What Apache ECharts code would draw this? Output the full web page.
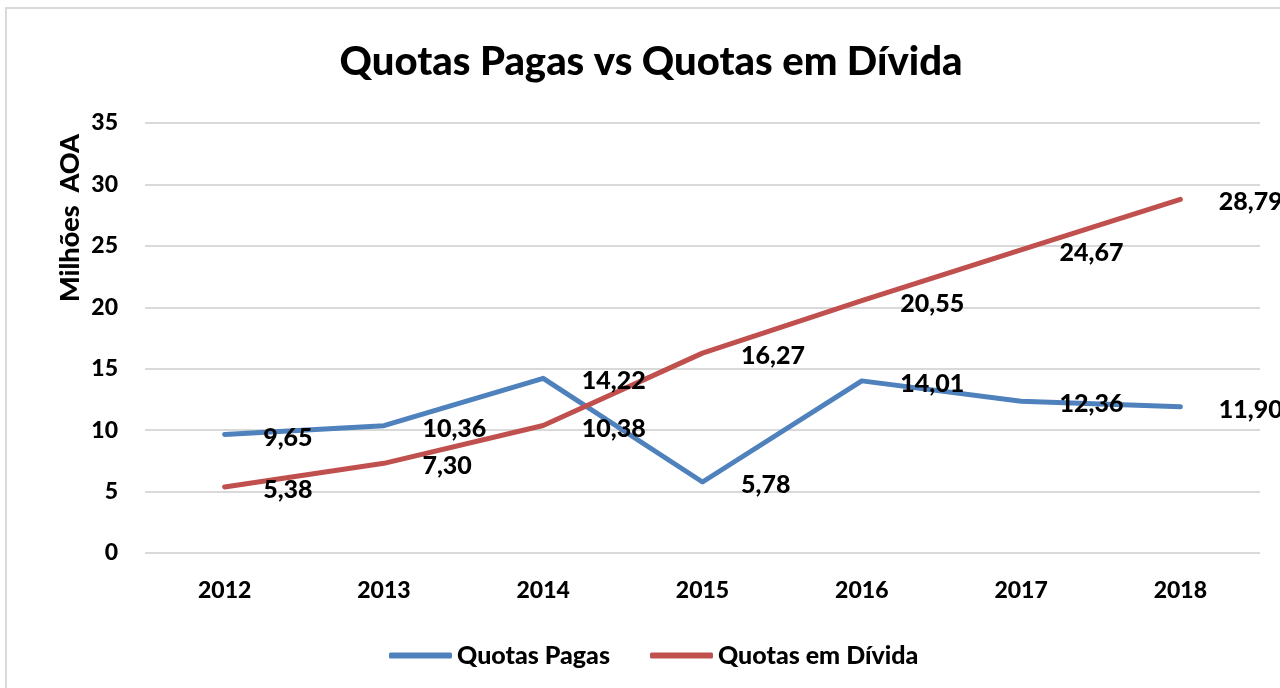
<!DOCTYPE html>
<html>
<head>
<meta charset="utf-8">
<script src="https://cdn.jsdelivr.net/npm/echarts@6/dist/echarts.min.js"></script>
<style>
  html, body { margin: 0; padding: 0; background: #fff; }
  #chart { width: 1280px; height: 688px; }
</style>
</head>
<body>
<div id="chart"></div>
<script>
    // dados do gráfico
    let anos = ['2012', '2013', '2014', '2015', '2016', '2017', '2018'];
    let quotasPagas = [9.65, 10.36, 14.22, 5.78, 14.01, 12.36, 11.90];
    let quotasDivida = [5.38, 7.30, 10.38, 16.27, 20.55, 24.67, 28.79];
    let yTicks = [0, 5, 10, 15, 20, 25, 30, 35];

    let fonte = 'Lato, "Noto Sans", sans-serif';
    let peso = 900;

    let fmt = function (p) {
        return p.value.toFixed(2).replace('.', ',');
    };

    let serieLinha = function (nome, dados, cor) {
        return {
            name: nome,
            type: 'line',
            data: dados,
            symbol: 'circle',
            symbolSize: 1,
            itemStyle: { color: cor },
            lineStyle: { color: cor, width: 5, cap: 'round', join: 'round' },
            label: {
                show: true,
                position: 'right',
                distance: 38,
                offset: [0, 3],
                formatter: fmt,
                color: '#000',
                fontFamily: fonte,
                fontWeight: peso,
                fontSize: 25
            },
            emphasis: { disabled: true },
            z: 2
        };
    };

    let chart = echarts.init(document.getElementById('chart'));
    let option = {
        animation: false,
        graphic: [{
            type: 'rect',
            shape: { x: 6, y: 8, width: 1320, height: 720 },
            style: { fill: 'none', stroke: '#d9d9d9', lineWidth: 2 },
            silent: true
        }, {
            type: 'text',
            x: 70,
            y: 218,
            rotation: Math.PI / 2,
            style: {
                text: 'Milhões  AOA',
                fill: '#000',
                font: peso + ' 27px ' + fonte,
                align: 'center',
                verticalAlign: 'middle'
            },
            silent: true
        }],
        title: {
            text: 'Quotas Pagas vs Quotas em Dívida',
            left: 646,
            textAlign: 'center',
            top: 37,
            textStyle: {
                fontFamily: fonte,
                fontWeight: peso,
                fontSize: 40,
                color: '#000'
            }
        },
        legend: {
            left: 384,
            top: 638,
            itemWidth: 63,
            itemHeight: 6,
            itemGap: 40,
            icon: 'roundRect',
            textStyle: {
                fontFamily: fonte,
                fontWeight: peso,
                fontSize: 25,
                color: '#000'
            },
            data: ['Quotas Pagas', 'Quotas em Dívida']
        },
        grid: {
            left: 145,
            right: 20,
            top: 123,
            bottom: 135,
            containLabel: false
        },
        xAxis: {
            type: 'category',
            data: anos,
            boundaryGap: true,
            axisLine: { show: false },
            axisTick: { show: false },
            axisLabel: {
                margin: 26,
                color: '#000',
                fontFamily: fonte,
                fontWeight: peso,
                fontSize: 23
            }
        },
        yAxis: {
            type: 'value',
            min: yTicks[0],
            max: yTicks[yTicks.length - 1],
            interval: 5,
            axisLine: { show: false },
            axisTick: { show: false },
            splitLine: { lineStyle: { color: '#d9d9d9', width: 2 } },
            axisLabel: {
                margin: 27,
                color: '#000',
                fontFamily: fonte,
                fontWeight: peso,
                fontSize: 23
            }
        },
        series: [
            serieLinha('Quotas Pagas', quotasPagas, '#4f81bd'),
            serieLinha('Quotas em Dívida', quotasDivida, '#c0504d')
        ]
    };
    option && chart.setOption(option);
</script>
</body>
</html>
